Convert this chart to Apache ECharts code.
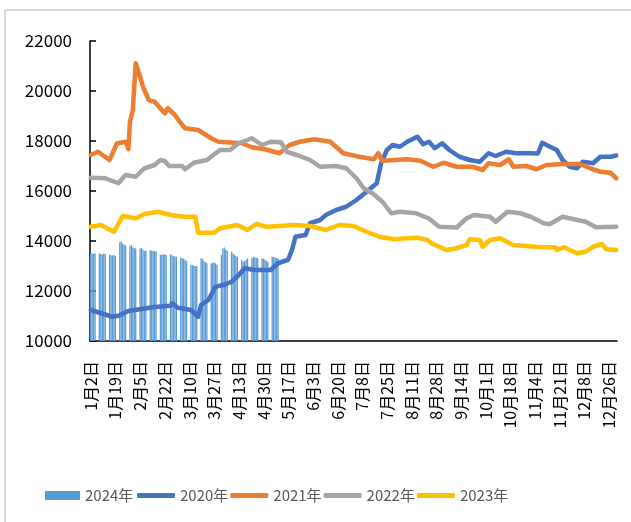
<!DOCTYPE html>
<html><head><meta charset="utf-8">
<script src="https://cdn.jsdelivr.net/npm/echarts@6/dist/echarts.min.js"></script>
<style>html,body{margin:0;padding:0;background:#fff}#c{width:631px;height:522px}</style>
</head><body><div id="c"></div>
<script>
// Category dates (2024 calendar, two dates absent in the source series)
const startDate = [2024, 0, 2], endDate = [2024, 11, 31];
const skippedDates = ['7月1日', '12月25日'];
const categories = [];
(function () {
  const d = new Date(startDate[0], startDate[1], startDate[2]);
  const e = new Date(endDate[0], endDate[1], endDate[2]);
  while (d <= e) {
    const s = (d.getMonth() + 1) + '月' + d.getDate() + '日';
    if (skippedDates.indexOf(s) < 0) categories.push(s);
    d.setDate(d.getDate() + 1);
  }
})();

const yTicks = [10000, 12000, 14000, 16000, 18000, 20000, 22000];
const seriesNames = ['2024年', '2020年', '2021年', '2022年', '2023年'];

const _ = null;
// 2024: daily values (null = no value), from 1月2日
const values2024 = [
  13500,13500,13480,13500,_,_,
  13500,13480,13450,13500,13480,_,_,
  13450,13430,13420,13440,13400,_,_,
  13950,13980,13900,13850,13820,_,_,
  13800,13850,13750,13720,13700,_,_,
  13700,13720,13650,13600,13620,_,_,
  13640,13620,13600,13600,13580,_,_,
  13440,13450,13470,13460,13440,_,_,
  13470,13420,13400,13380,13370,_,_,
  13330,13310,13300,13250,13200,_,_,
  13050,13040,13020,13000,13010,_,_,
  13310,13280,13200,13150,13110,_,_,
  13100,13120,13150,13100,13050,_,_,
  13440,13700,13740,13650,13600,_,_,
  13570,13500,13450,13400,13370,_,_,
  13250,13170,13200,13250,13300,_,_,
  13310,13370,13350,13330,13310,_,_,
  13310,13290,13250,13200,13170,_,_,
  13370,13350,13340,13320,13310
];

// [category index, value]
const values2020 = [[0,11240],[5,11150],[15,10970],[19,11010],[26,11200],[35,11280],[44,11360],[55,11410],[56,11510],[60,11330],[69,11240],[74,10970],[76,11440],[81,11640],[86,12170],[93,12270],[97,12370],[102,12640],[106,12910],[113,12840],[124,12840],[129,13110],[136,13250],[139,13710],[141,14170],[148,14240],[151,14710],[158,14840],[162,15040],[169,15240],[176,15370],[183,15640],[190,15970],[197,16310],[200,17110],[204,17640],[208,17840],[213,17770],[218,17970],[225,18170],[229,17870],[233,17970],[237,17710],[242,17910],[247,17640],[254,17370],[261,17240],[268,17170],[274,17510],[279,17400],[286,17570],[293,17510],[302,17510],[308,17500],[311,17930],[316,17780],[321,17640],[325,17240],[330,16970],[335,16910],[339,17170],[346,17110],[351,17370],[358,17370],[362,17420]];

const values2021 = [[0,17440],[5,17570],[13,17240],[18,17900],[24,17970],[26,17670],[27,18770],[29,19240],[31,21110],[34,20570],[36,20170],[40,19640],[44,19570],[51,19110],[53,19310],[58,19040],[63,18640],[65,18510],[74,18440],[83,18110],[88,17970],[104,17910],[111,17750],[120,17670],[130,17510],[137,17840],[144,17970],[154,18070],[165,17970],[174,17510],[185,17370],[195,17270],[198,17510],[201,17210],[218,17270],[227,17210],[236,16970],[243,17130],[252,16970],[263,16970],[270,16840],[274,17110],[282,17040],[288,17270],[291,16970],[300,17000],[307,16870],[314,17040],[325,17080],[337,17080],[344,16910],[351,16770],[358,16730],[362,16510]];

const values2022 = [[0,16530],[10,16510],[19,16310],[24,16640],[31,16570],[37,16910],[44,17040],[48,17240],[51,17200],[54,17000],[63,17000],[65,16870],[71,17130],[80,17240],[89,17640],[96,17640],[102,17910],[111,18110],[118,17840],[124,17970],[131,17950],[135,17570],[142,17440],[151,17240],[158,16970],[169,17000],[176,16910],[183,16510],[188,16110],[194,15910],[201,15570],[207,15110],[213,15170],[224,15110],[233,14900],[240,14570],[252,14540],[259,14910],[264,15040],[275,14970],[279,14770],[287,15170],[296,15110],[303,14970],[312,14710],[316,14670],[325,14970],[335,14840],[341,14770],[348,14550],[362,14570]];

const values2023 = [[0,14570],[7,14640],[16,14370],[22,15000],[31,14910],[37,15080],[46,15170],[55,15040],[64,14970],[72,14970],[74,14330],[85,14330],[89,14510],[101,14640],[108,14440],[114,14680],[121,14570],[130,14600],[139,14640],[151,14600],[162,14440],[171,14640],[181,14600],[190,14370],[199,14170],[209,14070],[215,14100],[225,14130],[232,14040],[235,13900],[245,13640],[252,13710],[259,13840],[261,14070],[268,14040],[270,13770],[275,14040],[282,14110],[291,13840],[300,13800],[310,13750],[320,13750],[321,13640],[326,13750],[335,13510],[341,13570],[346,13770],[352,13880],[355,13670],[362,13640]];

const colors = ['#5B9BD5', '#4472C4', '#ED7D31', '#A5A5A5', '#FFC000'];
const font = '"Noto Sans CJK SC", "Noto Sans", sans-serif';

function lineSeries(name, data, color) {
  return { name: name, type: 'line', data: data, symbol: 'none', showSymbol: false, smooth: false,
    lineStyle: { width: 4.5, color: color, cap: 'round', join: 'round' }, itemStyle: { color: color }, z: 3 };
}

const legendText = { fontFamily: font, fontSize: 15, color: '#595959' };

const chart = echarts.init(document.getElementById('c'));
chart.setOption({
  animation: false,
  backgroundColor: '#fff',
  color: colors,
  graphic: [
    { type: 'line', shape: { x1: 5, y1: 10, x2: 5, y2: 522 }, style: { stroke: '#d9d9d9', lineWidth: 2 } },
    { type: 'line', shape: { x1: 5, y1: 10, x2: 631, y2: 10 }, style: { stroke: '#d9d9d9', lineWidth: 2 } }
  ],
  grid: { left: 90, right: 14, top: 41, bottom: 181, containLabel: false },
  legend: [
    { data: [{ name: seriesNames[0], icon: 'rect' }], left: 40, top: 483, itemWidth: 35, itemHeight: 9,
      itemGap: 2, textStyle: legendText },
    { data: seriesNames.slice(1).map(n => ({ name: n, icon: 'roundRect' })), left: 132, top: 483,
      itemWidth: 38, itemHeight: 5, itemGap: 2, textStyle: legendText }
  ],
  xAxis: {
    type: 'category', data: categories, boundaryGap: true,
    axisLine: { lineStyle: { color: '#000', width: 1.5 } },
    axisTick: { inside: true, length: 5, interval: 12, lineStyle: { color: '#000', width: 1.5 } },
    axisLabel: { interval: 16, rotate: 90, margin: 20, fontFamily: font, fontSize: 16, color: '#000' },
    splitLine: { show: false }
  },
  yAxis: {
    type: 'value', min: yTicks[0], max: yTicks[yTicks.length - 1], interval: 2000,
    axisLine: { show: true, lineStyle: { color: '#000', width: 1.5 } },
    axisTick: { show: true, inside: true, length: 6, lineStyle: { color: '#000', width: 1.5 } },
    axisLabel: { margin: 18, fontFamily: font, fontSize: 17, color: '#000', formatter: v => String(v) },
    splitLine: { show: false }
  },
  series: [
    { name: seriesNames[0], type: 'bar', data: values2024, barWidth: '90%', itemStyle: { color: colors[0] }, z: 2 },
    lineSeries(seriesNames[1], values2020, colors[1]),
    lineSeries(seriesNames[2], values2021, colors[2]),
    lineSeries(seriesNames[3], values2022, colors[3]),
    lineSeries(seriesNames[4], values2023, colors[4])
  ]
});
</script></body></html>
